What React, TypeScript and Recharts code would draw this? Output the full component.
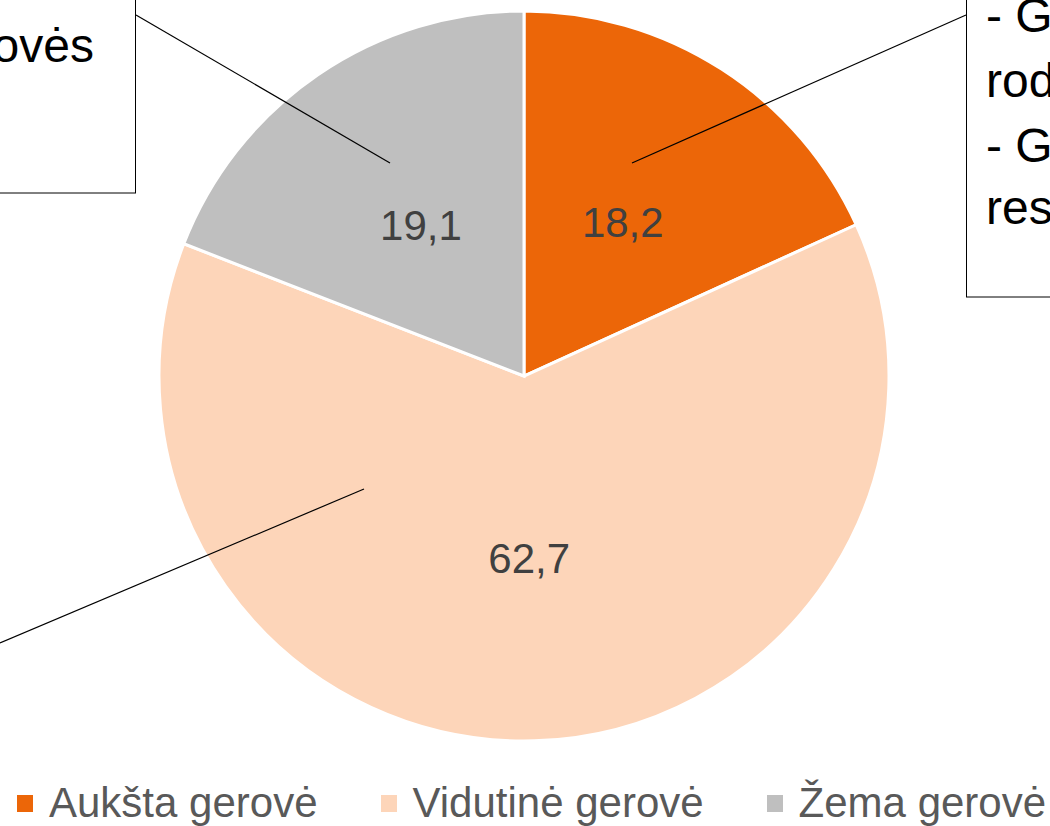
import React from 'react'
import { PieChart, Pie, Cell, Legend } from 'recharts'

const categories = ['Aukšta gerovė', 'Vidutinė gerovė', 'Žema gerovė']
const shares = [18.2, 62.7, 19.1]
const colors = ['#EC6608', '#FDD5B9', '#BFBFBF']

const data = categories.map((name, i) => ({ name, value: shares[i] }))

const RADIAN = Math.PI / 180
const FONT = 'Arial, "Liberation Sans", sans-serif'

const renderLabel = (p: any) => {
  const r = p.outerRadius * 0.5
  const x = p.cx + r * Math.cos(-p.midAngle * RADIAN)
  const y = p.cy + r * Math.sin(-p.midAngle * RADIAN)
  return (
    <text x={x} y={y} textAnchor="middle" dominantBaseline="central" fill="#404040" fontSize={42} fontFamily={FONT}>
      {String(p.value).replace('.', ',')}
    </text>
  )
}

const renderLegend = () => (
  <div style={{ display: 'flex', alignItems: 'center', gap: 63, paddingLeft: 17, fontFamily: FONT, fontSize: 42, color: '#595959', whiteSpace: 'nowrap' }}>
    {categories.map((c, i) => (
      <div key={c} style={{ display: 'flex', alignItems: 'center' }}>
        <span style={{ width: 16, height: 17, background: colors[i], marginRight: 16, display: 'inline-block' }} />
        <span>{c}</span>
      </div>
    ))}
  </div>
)

export default function App() {
  return (
    <div style={{ position: 'absolute', left: 0, top: 0, width: 1050, height: 826, overflow: 'hidden', background: '#fff' }}>
      <PieChart width={1050} height={826} margin={{ top: 0, right: 0, bottom: 0, left: 0 }}>
        <Pie
          data={data}
          dataKey="value"
          cx={524}
          cy={376}
          outerRadius={365}
          startAngle={90}
          endAngle={-270}
          stroke="#fff"
          strokeWidth={3}
          label={renderLabel}
          labelLine={false}
          isAnimationActive={false}
        >
          {data.map((d, i) => (
            <Cell key={d.name} fill={colors[i]} />
          ))}
        </Pie>
        <Legend content={renderLegend} wrapperStyle={{ position: 'absolute', left: 0, top: 779, width: 1050 }} />
      </PieChart>
      <svg width={1050} height={826} style={{ position: 'absolute', left: 0, top: 0, pointerEvents: 'none' }}>
        <rect x={-20} y={-20} width={155.5} height={213} fill="#fff" stroke="#000" strokeWidth={1} />
        <text x={94} y={62} textAnchor="end" fontSize={48} fontFamily={FONT} fill="#000">Žemos gerovės</text>
        <line x1={136} y1={15} x2={390} y2={163} stroke="#000" strokeWidth={1.2} />

        <rect x={966.5} y={-20} width={200} height={317} fill="#fff" stroke="#000" strokeWidth={1} />
        <text fontSize={48} fontFamily={FONT} fill="#000">
          <tspan x={986} y={32}>- Gerovės</tspan>
          <tspan x={986} y={97}>rodiklis</tspan>
          <tspan x={986} y={162}>- Gyventojų</tspan>
          <tspan x={986} y={224}>resursai</tspan>
        </text>
        <line x1={966} y1={15} x2={632} y2={163} stroke="#000" strokeWidth={1.2} />

        <line x1={0} y1={643} x2={364} y2={489} stroke="#000" strokeWidth={1.2} />
      </svg>
    </div>
  )
}
